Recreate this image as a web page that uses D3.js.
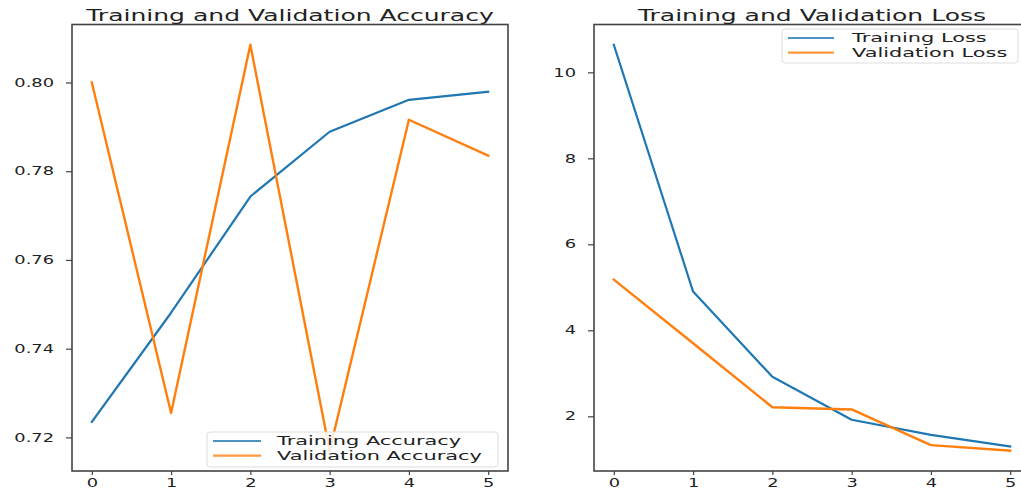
<!DOCTYPE html>
<html><head><meta charset="utf-8">
<script src="https://cdn.jsdelivr.net/npm/d3@7"></script>
<style>body{margin:0;background:#fff}svg{display:block}text{font-family:"DejaVu Sans",sans-serif;fill:#222}</style>
</head><body><svg id="c" width="1021" height="489"></svg>
<script>
const epochs = [0,1,2,3,4,5];
const trainAcc = [0.7235,0.7481,0.7743,0.7889,0.7961,0.7979];
const valAcc   = [0.8000,0.7255,0.8085,0.7170,0.7916,0.7835];
const trainLoss = [10.64,4.90,2.92,1.92,1.57,1.30];
const valLoss   = [5.18,3.70,2.21,2.16,1.33,1.20];
const xTicks = [0,1,2,3,4,5];
const accTicks = [0.72,0.74,0.76,0.78,0.80];
const lossTicks = [2,4,6,8,10];
const accTitle = "Training and Validation Accuracy";
const lossTitle = "Training and Validation Loss";
const accLabels = ["Training Accuracy","Validation Accuracy"];
const lossLabels = ["Training Loss","Validation Loss"];

const C1 = "#1f77b4", C2 = "#ff7f0e";
const svg = d3.select("#c");

function stretchText(g, x, y, str, fs, sx, anchor){
  return g.append("text").attr("transform",`translate(${x},${y}) scale(${sx},1)`)
    .attr("font-size",fs).attr("text-anchor",anchor||"start").text(str);
}
function margins(vals){
  const mn=d3.min(vals), mx=d3.max(vals), r=mx-mn;
  return [mn-0.05*r, mx+0.05*r];
}

function panel(opt){
  const {x0,x1,y0,y1,series,yTicks,fmt,title,labels,legend} = opt;
  const g = svg.append("g");
  const x = d3.scaleLinear().domain([-0.25,5.25]).range([x0,x1]);
  const all = series[0].concat(series[1]);
  const y = d3.scaleLinear().domain(margins(all)).range([y1,y0]);
  const line = d3.line().x((d,i)=>x(epochs[i])).y(d=>y(d));
  series.forEach((s,k)=>{
    g.append("path").datum(s).attr("d",line).attr("fill","none")
      .attr("stroke",k?C2:C1).attr("stroke-width",k?2.4:2.2).attr("stroke-linejoin","round").attr("stroke-linecap","square");
  });
  const ax = g.append("g").attr("transform",`translate(0,${y1})`)
    .call(d3.axisBottom(x).tickValues(xTicks).tickFormat(d3.format("d")).tickSize(4).tickPadding(3.5).tickSizeOuter(0));
  const ay = g.append("g").attr("transform",`translate(${x0},0)`)
    .call(d3.axisLeft(y).tickValues(yTicks).tickFormat(fmt).tickSize(6).tickPadding(12).tickSizeOuter(0));
  [ax,ay].forEach(a=>{
    a.select(".domain").remove();
    a.selectAll("line").attr("stroke","#444").attr("stroke-width",1.2);
    a.selectAll("text").attr("font-family","DejaVu Sans").attr("font-size",11.5).attr("fill","#2a2a2a");
  });
  const sxT = 1.55;
  ay.selectAll("text").each(function(){
    const t=d3.select(this); const xx=+t.attr("x");
    t.attr("x",null).attr("transform",`translate(${xx},0) scale(${sxT},1)`);
  });
  ax.selectAll("text").attr("transform",`scale(${sxT},1)`);
  g.append("rect").attr("x",x0).attr("y",y0).attr("width",x1-x0).attr("height",y1-y0)
    .attr("fill","none").attr("stroke","#444").attr("stroke-width",1.6);
  stretchText(g,(x0+x1)/2,20.5,title,16,1.565,"middle").attr("fill","#222");
  const L = legend;
  g.append("rect").attr("x",L.x).attr("y",L.y).attr("width",L.w).attr("height",L.h)
    .attr("rx",3).attr("fill","rgba(255,255,255,0.85)").attr("stroke","#ddd").attr("stroke-width",1);
  labels.forEach((lab,k)=>{
    const ry = L.y + 9 + k*14.7;
    g.append("line").attr("x1",L.lx1).attr("x2",L.lx2).attr("y1",ry).attr("y2",ry)
      .attr("stroke",k?C2:C1).attr("stroke-width",2.2).attr("stroke-opacity",0.8);
    stretchText(g,L.tx,ry+4.3,lab,12.5,1.67,"start").attr("fill","#333");
  });
}

panel({x0:72,x1:508,y0:24.5,y1:471,series:[trainAcc,valAcc],yTicks:accTicks,fmt:d3.format(".2f"),
  title:accTitle,labels:accLabels,legend:{x:207,y:432,w:291,h:35,lx1:213,lx2:261,tx:277}});
panel({x0:594,x1:1030,y0:24.5,y1:471,series:[trainLoss,valLoss],yTicks:lossTicks,fmt:d3.format("d"),
  title:lossTitle,labels:lossLabels,legend:{x:782,y:29,w:236,h:34,lx1:788,lx2:834,tx:852}});
</script></body></html>
